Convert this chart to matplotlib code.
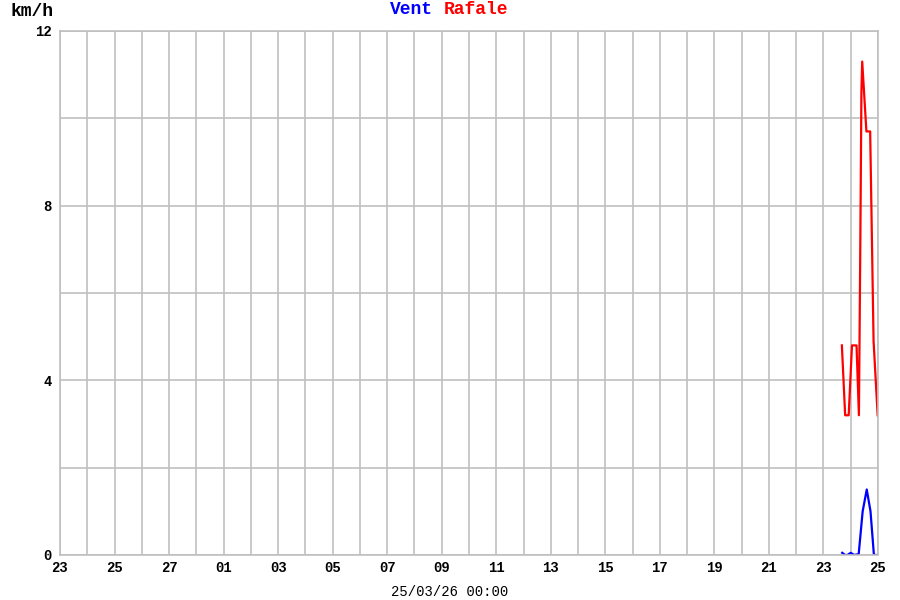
import matplotlib
matplotlib.use("Agg")
import matplotlib.pyplot as plt
import numpy as np

# hours relative to 25/03/26 00:00
rafale_hours = [-31.8, -28.9, -25.8, -22.9, -18.9, -16.8, -15.6, -14.6, -13.9, -10.2, -6.9, -3.9, -0.3]
rafale_kmh = [4.8, 3.2, 3.2, 4.8, 4.8, 3.2, 7.0, 10.6, 11.3, 9.7, 9.7, 4.9, 3.2]

vent_hours = [-31.5, -29.0, -27.0, -24.0, -21.0, -17.0, -13.5, -9.9, -6.6, -3.6, -0.3]
vent_kmh = [0.05, 0.0, 0.0, 0.05, 0.0, 0.02, 1.0, 1.5, 1.0, 0.0, 0.0]

day_labels = ["23", "25", "27", "01", "03", "05", "07", "09",
              "11", "13", "15", "17", "19", "21", "23", "25"]
n_days = 30
y_labels = [0, 4, 8, 12]

mono = ["Liberation Mono", "DejaVu Sans Mono"]

fig = plt.figure(figsize=(9, 6), dpi=100)
ax = fig.add_axes([60 / 900, 1 - 555 / 600, 818 / 900, 524 / 600])

# days since start of window
ax.plot(n_days + np.array(rafale_hours) / 24, rafale_kmh, color="#ff0000", lw=1.6)
ax.plot(n_days + np.array(vent_hours) / 24, vent_kmh, color="#0000ff", lw=1.6)

ax.set_xlim(0, n_days)
ax.set_ylim(0, 12)

ax.set_xticks(np.arange(0, n_days + 1, 1), minor=True)
ax.set_xticks(np.arange(0, n_days + 1, 2))
ax.set_xticklabels(day_labels, fontfamily=mono, fontweight="bold", fontsize=10)
ax.set_yticks(np.arange(0, 13, 2), minor=True)
ax.set_yticks(y_labels)
ax.set_yticklabels([str(v) for v in y_labels], fontfamily=mono, fontweight="bold", fontsize=10)

ax.grid(True, which="both", color="#c0c0c0", lw=1.2)
ax.set_axisbelow(True)
ax.tick_params(which="both", length=0, pad=4)
ax.tick_params(axis="y", pad=6)
for s in ax.spines.values():
    s.set_color("#c0c0c0")
    s.set_linewidth(1.2)

fig.text(10 / 900, 1 - 11 / 600, "km/h", fontfamily=mono, fontweight="bold",
         fontsize=13, ha="left", va="center")
fig.text(433 / 900, 1 - 10 / 600, "Vent", color="#0000ff", fontfamily=mono,
         fontweight="bold", fontsize=13, ha="right", va="center")
fig.text(444 / 900, 1 - 10 / 600, "Rafale", color="#ff0000", fontfamily=mono,
         fontweight="bold", fontsize=13, ha="left", va="center")
fig.text(450 / 900, 1 - 592 / 600, "25/03/26 00:00", fontfamily=mono,
         fontsize=10, ha="center", va="center")

fig.savefig("out.png", dpi=100)
